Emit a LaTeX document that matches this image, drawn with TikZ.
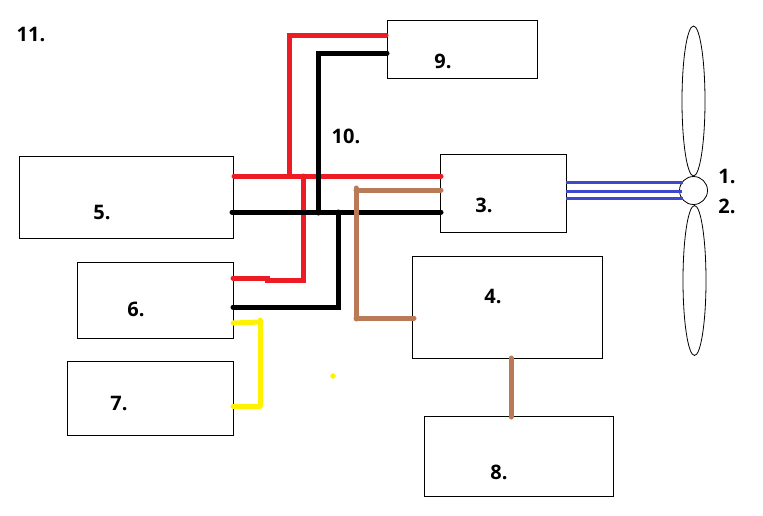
\documentclass[tikz,border=0pt]{standalone}
\usepackage{fontspec}
\setsansfont{Open Sans}
\usetikzlibrary{shapes.geometric}

\definecolor{wirered}{RGB}{237,28,36}
\definecolor{wirebrown}{RGB}{185,122,87}
\definecolor{wireyellow}{RGB}{255,242,0}
\definecolor{wireblue}{RGB}{63,72,204}

\begin{document}
\begin{tikzpicture}[
		x=1pt, y=-1pt,
		box/.style={rectangle, draw, line width=1pt, inner sep=0pt},
		blade/.style={ellipse, draw, line width=0.8pt, inner sep=0pt, minimum width=23pt, minimum height=150pt},
		num/.style={font=\sffamily\bfseries\fontsize{20}{22}\selectfont, inner sep=0pt},
		red_wire/.style={draw=wirered, line width=5pt, line cap=round},
		black_wire/.style={draw=black, line width=5pt, line cap=round},
		brown_wire/.style={draw=wirebrown, line width=5pt, line cap=round},
		yellow_wire/.style={draw=wireyellow, line width=5pt, line cap=round},
		blue_wire/.style={draw=wireblue, line width=3pt}
	]
  \useasboundingbox (0,0) rectangle (763,515);
  \node (box_9) [box, minimum width=150pt, minimum height=58pt] at (462,49) {};
  \node (box_3) [box, minimum width=126pt, minimum height=78pt] at (503,193) {};
  \node (box_5) [box, minimum width=214pt, minimum height=82pt] at (126,197) {};
  \node (box_6) [box, minimum width=156pt, minimum height=76pt] at (155,300) {};
  \node (box_7) [box, minimum width=166pt, minimum height=74pt] at (150,398) {};
  \node (box_4) [box, minimum width=190pt, minimum height=102pt] at (507,307) {};
  \node (box_8) [box, minimum width=189pt, minimum height=80pt] at (518.5,456) {};
  \node (blade_1) [blade] at (693.5,101) {};
  \node (blade_2) [blade] at (694.5,280.5) {};
  \node (hub) [circle, draw, line width=0.8pt, inner sep=0pt, minimum size=28pt, fill=white] at (693.5,190.5) {};
  \node (n_1) [num] at (727,176.5) {1.};
  \node (n_2) [num] at (727,206) {2.};
  \node (n_3) [num] at (484,205) {3.};
  \node (n_4) [num] at (493,296) {4.};
  \node (n_5) [num] at (102,212) {5.};
  \node (n_6) [num] at (136,309) {6.};
  \node (n_7) [num] at (119,403) {7.};
  \node (n_8) [num] at (499,472) {8.};
  \node (n_9) [num] at (443,61) {9.};
  \node (n_10) [num] at (346,136) {10.};
  \node (n_11) [num] at (31,34) {11.};
  \node (dot) [circle, fill=wireyellow, inner sep=0pt, minimum size=5.5pt] at (333,376) {};
  % red
  \coordinate (r5) at (234,176);
  \coordinate (r3) at (441,176);
  \coordinate (r_up) at (289,176);
  \coordinate (r_up_top) at (289,35);
  \coordinate (r9) at (386,35);
  \coordinate (r6) at (233,278);
  \coordinate (r6_a) at (267,278);
  \coordinate (r6_b) at (267,280);
  \coordinate (r6_c) at (303,280);
  \coordinate (r6_top) at (303,176);
  \draw [red_wire] (r5) -- (r3);
  \draw [red_wire] (r_up) -- (r_up_top) -- (r9);
  \draw [red_wire] (r6) -- (r6_a) -- (r6_b) -- (r6_c) -- (r6_top);
  % black
  \coordinate (k5) at (232,212);
  \coordinate (k3) at (441,212);
  \coordinate (k_up) at (318,213);
  \coordinate (k_up_top) at (318,53);
  \coordinate (k9) at (387,53);
  \coordinate (k6) at (233,307);
  \coordinate (k6_a) at (338,307);
  \coordinate (k6_top) at (338,212);
  \draw [black_wire] (k5) -- (k3);
  \draw [black_wire] (k_up) -- (k_up_top) -- (k9);
  \draw [black_wire] (k6) -- (k6_a) -- (k6_top);
  % brown
  \coordinate (b3) at (441,190);
  \coordinate (b_a) at (356,190);
  \coordinate (b_top) at (356,188);
  \coordinate (b_b) at (356,319);
  \coordinate (b_c) at (356,318);
  \coordinate (b4) at (414,318);
  \coordinate (b4_bot) at (511,358);
  \coordinate (b8) at (511,417);
  \draw [brown_wire] (b3) -- (b_a);
  \draw [brown_wire] (b_top) -- (b_b);
  \draw [brown_wire] (b_c) -- (b4);
  \draw [brown_wire] (b4_bot) -- (b8);
  % yellow
  \coordinate (y6) at (233,323);
  \coordinate (y_a) at (260,322);
  \coordinate (y_top) at (260,320);
  \coordinate (y_b) at (260,406);
  \coordinate (y7) at (233,406);
  \draw [yellow_wire] (y6) -- (y_a);
  \draw [yellow_wire] (y_top) -- (y_b);
  \draw [yellow_wire] (y_b) -- (y7);
  % blue
  \coordinate (s1) at (566,182.5);
  \coordinate (s2) at (566,191);
  \coordinate (s3) at (566,198.5);
  \coordinate (h1) at (683,182.5);
  \coordinate (h2) at (682,191);
  \coordinate (h3) at (683,198.5);
  \draw [blue_wire] (s1) -- (h1);
  \draw [blue_wire] (s2) -- (h2);
  \draw [blue_wire] (s3) -- (h3);
\end{tikzpicture}
\end{document}
